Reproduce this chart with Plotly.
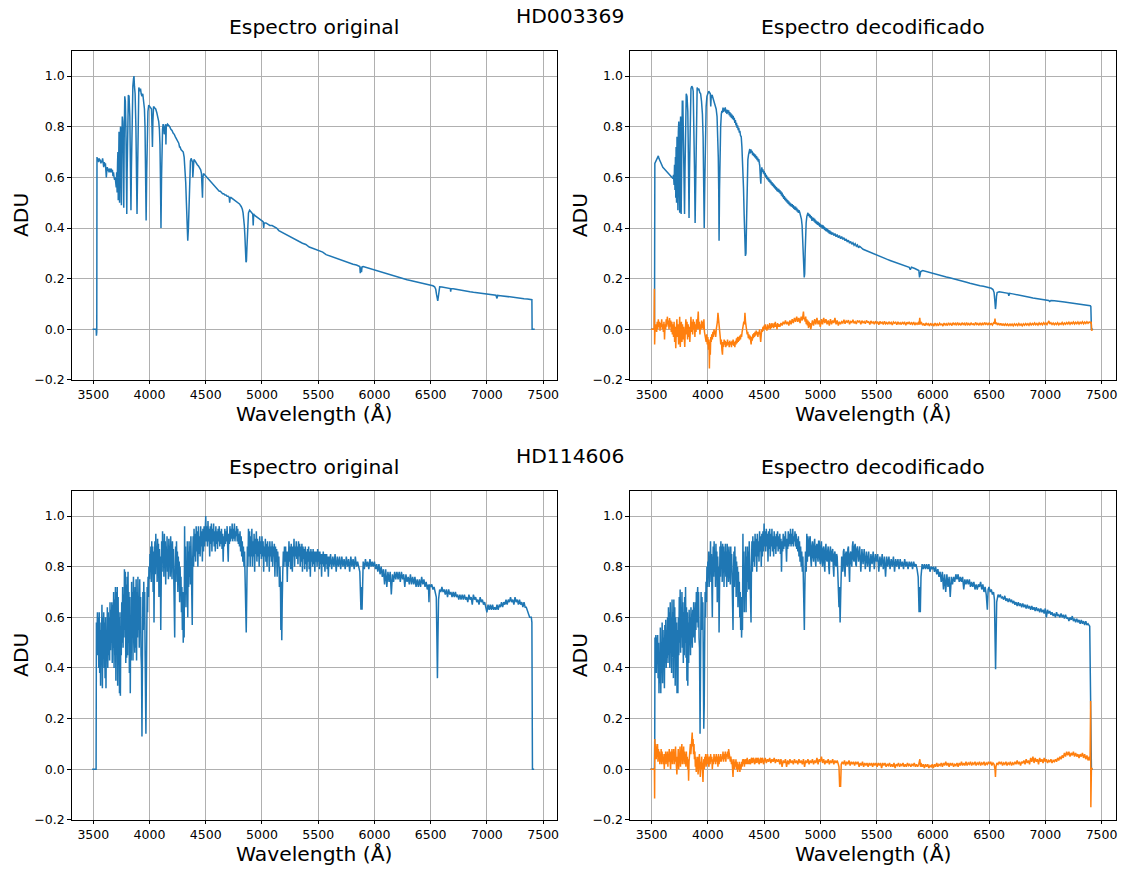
import plotly.graph_objects as go

# ---------------- data (wavelength in Angstrom, flux in ADU) ----------------
STARS = ["HD003369", "HD114606"]
PANEL_TITLES = ["Espectro original", "Espectro decodificado"]
X_TICKS = [3500, 4000, 4500, 5000, 5500, 6000, 6500, 7000, 7500]
Y_TICKS = [-0.2, 0.0, 0.2, 0.4, 0.6, 0.8, 1.0]
Y_TICK_TEXT = ["\u22120.2", "0.0", "0.2", "0.4", "0.6", "0.8", "1.0"]

# HD003369 original spectrum
ORIG_A = [
 (3494,0.0),(3526,0.0),(3528,-0.025),(3531,-0.01),(3533,0.68),(3538,0.665),(3543,0.675),(3548,0.66),
 (3553,0.675),(3558,0.665),(3563,0.67),(3568,0.655),(3573,0.665),(3578,0.66),(3583,0.675),(3588,0.65),
 (3593,0.64),(3598,0.66),(3603,0.645),(3608,0.655),(3612,0.64),(3616,0.60),(3620,0.625),(3625,0.64),
 (3630,0.625),(3635,0.635),(3640,0.62),(3645,0.635),(3650,0.63),(3655,0.62),(3660,0.635),(3665,0.62),
 (3670,0.63),(3675,0.605),(3680,0.62),(3685,0.60),(3690,0.59),(3695,0.60),(3700,0.57),(3704,0.56),
 (3708,0.62),(3712,0.54),(3716,0.66),(3719,0.70),(3722,0.51),(3725,0.70),(3729,0.78),(3734,0.50),
 (3738,0.72),(3742,0.80),(3746,0.78),(3750,0.49),(3754,0.72),(3758,0.84),(3762,0.82),(3767,0.70),
 (3771,0.48),(3775,0.75),(3780,0.92),(3785,0.90),(3790,0.80),(3795,0.62),(3798,0.455),(3801,0.62),
 (3806,0.85),(3812,0.925),(3818,0.92),(3825,0.84),(3831,0.62),(3835,0.47),(3839,0.63),(3845,0.86),
 (3852,0.96),(3858,0.99),(3862,1.0),(3866,0.96),(3872,0.93),(3879,0.80),(3884,0.62),(3889,0.455),
 (3894,0.62),(3899,0.84),(3905,0.955),(3912,0.94),(3920,0.95),(3926,0.93),(3933,0.92),(3940,0.93),
 (3948,0.90),(3955,0.87),(3960,0.80),(3965,0.62),(3970,0.43),(3975,0.62),(3980,0.80),(3986,0.86),
 (3993,0.885),(4000,0.88),(4010,0.875),(4018,0.87),(4022,0.80),(4026,0.72),(4030,0.82),(4036,0.88),
 (4045,0.875),(4055,0.87),(4065,0.855),(4075,0.84),(4082,0.82),(4088,0.79),(4093,0.73),(4097,0.60),
 (4102,0.40),(4107,0.60),(4111,0.73),(4116,0.79),(4121,0.81),(4127,0.80),(4131,0.77),(4135,0.80),
 (4143,0.81),(4146,0.73),(4149,0.80),(4160,0.81),(4170,0.805),(4180,0.80),(4190,0.79),(4200,0.785),
 (4210,0.775),(4220,0.77),(4230,0.76),(4240,0.75),(4250,0.745),(4260,0.735),(4267,0.72),(4272,0.72),
 (4280,0.71),(4290,0.705),(4300,0.70),(4308,0.68),(4315,0.64),(4322,0.58),(4328,0.50),(4334,0.40),
 (4340,0.35),(4346,0.40),(4352,0.53),(4358,0.62),(4364,0.665),(4370,0.675),(4376,0.665),(4382,0.66),
 (4385,0.60),(4388,0.66),(4395,0.67),(4405,0.665),(4415,0.655),(4425,0.65),(4435,0.645),(4445,0.635),
 (4455,0.63),(4462,0.615),(4467,0.58),(4471,0.52),(4475,0.60),(4480,0.615),(4490,0.61),(4500,0.605),
 (4510,0.60),(4520,0.595),(4530,0.59),(4540,0.585),(4550,0.58),(4560,0.575),(4570,0.57),(4580,0.565),
 (4590,0.56),(4600,0.555),(4610,0.55),(4620,0.545),(4630,0.545),(4640,0.54),(4650,0.535),(4660,0.535),
 (4670,0.53),(4680,0.53),(4690,0.525),(4700,0.525),(4709,0.52),(4713,0.50),(4717,0.52),(4725,0.52),
 (4740,0.515),(4760,0.51),(4780,0.50),(4800,0.495),(4815,0.485),(4825,0.475),(4832,0.46),(4838,0.44),
 (4843,0.41),(4848,0.37),(4853,0.31),(4858,0.265),(4862,0.27),(4866,0.32),(4870,0.38),(4875,0.43),
 (4880,0.46),(4890,0.47),(4900,0.465),(4910,0.46),(4918,0.455),(4922,0.41),(4926,0.455),(4935,0.45),
 (4950,0.445),(4965,0.44),(4980,0.435),(4995,0.43),(5010,0.425),(5015,0.40),(5020,0.42),(5035,0.42),
 (5050,0.415),(5070,0.41),(5090,0.41),(5110,0.405),(5130,0.40),(5150,0.39),(5170,0.385),(5190,0.38),
 (5210,0.375),(5230,0.37),(5250,0.365),(5270,0.36),(5290,0.355),(5310,0.35),(5330,0.345),(5360,0.34),
 (5390,0.335),(5420,0.325),(5450,0.32),(5480,0.315),(5510,0.31),(5540,0.305),(5570,0.295),(5600,0.29),
 (5630,0.285),(5660,0.28),(5690,0.275),(5720,0.27),(5750,0.265),(5780,0.26),(5810,0.257),(5840,0.254),
 (5860,0.252),(5870,0.248),(5874,0.222),(5878,0.245),(5885,0.226),(5890,0.247),(5900,0.248),(5930,0.244),
 (5960,0.24),(5990,0.237),(6020,0.232),(6050,0.227),(6080,0.222),(6110,0.218),(6140,0.214),(6170,0.21),
 (6200,0.208),(6230,0.204),(6260,0.2),(6290,0.196),(6320,0.193),(6350,0.19),(6380,0.187),(6410,0.184),
 (6440,0.181),(6470,0.178),(6500,0.176),(6520,0.172),(6535,0.168),(6545,0.158),(6552,0.138),(6558,0.116),
 (6563,0.112),(6568,0.128),(6573,0.158),(6580,0.168),(6600,0.167),(6630,0.165),(6660,0.163),(6675,0.161),
 (6678,0.149),(6681,0.16),(6700,0.16),(6730,0.157),(6760,0.155),(6790,0.152),(6820,0.15),(6850,0.148),
 (6880,0.146),(6910,0.144),(6940,0.142),(6970,0.141),(7000,0.14),(7030,0.138),(7060,0.136),(7080,0.135),
 (7090,0.122),(7095,0.134),(7120,0.133),(7150,0.131),(7180,0.129),(7210,0.128),(7240,0.126),(7270,0.124),
 (7300,0.122),(7330,0.121),(7360,0.12),(7390,0.118),(7400,0.117),(7402,0.0),(7425,0.0),
]

# HD003369 decoded spectrum
DEC_A = [
 (3494,0.0),(3526,0.0),(3529,0.655),(3535,0.66),(3540,0.665),(3545,0.67),(3550,0.675),(3555,0.68),
 (3560,0.685),(3565,0.675),(3570,0.67),(3575,0.665),(3580,0.655),(3585,0.65),(3590,0.645),(3595,0.64),
 (3600,0.64),(3610,0.635),(3620,0.63),(3630,0.625),(3640,0.62),(3650,0.615),(3660,0.61),(3670,0.605),
 (3680,0.60),(3690,0.595),(3695,0.61),(3700,0.57),(3704,0.65),(3708,0.55),(3712,0.68),(3715,0.52),
 (3718,0.72),(3722,0.50),(3726,0.76),(3730,0.48),(3734,0.47),(3738,0.78),(3742,0.82),(3746,0.60),
 (3750,0.46),(3754,0.78),(3758,0.84),(3763,0.455),(3767,0.80),(3773,0.90),(3778,0.90),(3783,0.70),
 (3788,0.60),(3793,0.455),(3797,0.62),(3802,0.86),(3808,0.93),(3815,0.92),(3822,0.86),(3828,0.65),
 (3833,0.44),(3837,0.62),(3843,0.88),(3850,0.95),(3857,0.96),(3864,0.955),(3870,0.94),(3876,0.82),
 (3882,0.62),(3887,0.42),(3892,0.62),(3898,0.86),(3905,0.955),(3912,0.945),(3920,0.95),(3928,0.935),
 (3936,0.93),(3944,0.90),(3952,0.85),(3958,0.76),(3963,0.55),(3968,0.40),(3973,0.58),(3979,0.80),
 (3985,0.88),(3992,0.92),(4000,0.93),(4008,0.94),(4015,0.935),(4022,0.93),(4026,0.88),(4030,0.92),
 (4038,0.925),(4045,0.915),(4055,0.905),(4065,0.89),(4074,0.87),(4082,0.84),(4088,0.78),(4093,0.68),
 (4097,0.55),(4100,0.35),(4104,0.55),(4109,0.72),(4114,0.80),(4120,0.85),(4125,0.862),(4130,0.855),
 (4135,0.875),(4140,0.858),(4145,0.872),(4150,0.862),(4155,0.876),(4160,0.855),(4165,0.868),(4170,0.85),
 (4175,0.866),(4180,0.855),(4185,0.865),(4190,0.845),(4195,0.858),(4200,0.84),(4205,0.853),(4210,0.835),
 (4215,0.848),(4220,0.83),(4225,0.843),(4230,0.826),(4235,0.835),(4240,0.815),(4245,0.826),(4250,0.805),
 (4255,0.815),(4260,0.795),(4265,0.805),(4270,0.786),(4275,0.795),(4280,0.776),(4285,0.784),(4290,0.766),
 (4297,0.76),(4303,0.72),(4310,0.66),(4317,0.56),(4323,0.45),(4329,0.36),(4334,0.29),(4339,0.30),
 (4344,0.42),(4350,0.58),(4356,0.67),(4362,0.69),(4368,0.70),(4373,0.712),(4378,0.695),(4383,0.71),
 (4388,0.698),(4393,0.705),(4398,0.688),(4403,0.698),(4408,0.684),(4413,0.694),(4418,0.679),(4423,0.69),
 (4428,0.674),(4433,0.684),(4438,0.668),(4443,0.678),(4448,0.662),(4453,0.672),(4458,0.655),(4462,0.645),
 (4467,0.60),(4471,0.575),(4475,0.62),(4480,0.64),(4485,0.622),(4490,0.632),(4495,0.615),(4500,0.625),
 (4505,0.608),(4510,0.618),(4515,0.60),(4520,0.61),(4525,0.593),(4530,0.603),(4535,0.588),(4540,0.598),
 (4545,0.582),(4550,0.592),(4555,0.577),(4560,0.587),(4565,0.571),(4570,0.581),(4575,0.566),(4580,0.576),
 (4585,0.561),(4590,0.571),(4595,0.556),(4600,0.566),(4605,0.551),(4610,0.561),(4615,0.546),(4620,0.556),
 (4625,0.543),(4630,0.555),(4635,0.54),(4640,0.55),(4645,0.535),(4650,0.545),(4655,0.528),(4660,0.54),
 (4665,0.522),(4670,0.532),(4675,0.515),(4680,0.526),(4685,0.51),(4690,0.52),(4695,0.505),(4700,0.515),
 (4705,0.50),(4710,0.51),(4715,0.495),(4720,0.505),(4725,0.49),(4730,0.50),(4735,0.486),(4740,0.496),
 (4745,0.484),(4750,0.494),(4755,0.48),(4760,0.49),(4765,0.475),(4770,0.485),(4775,0.472),(4780,0.484),
 (4785,0.47),(4790,0.48),(4795,0.465),(4800,0.474),(4805,0.46),(4810,0.47),(4818,0.46),(4825,0.45),
 (4832,0.435),(4838,0.41),(4843,0.37),(4848,0.32),(4853,0.25),(4857,0.205),(4861,0.22),(4865,0.30),
 (4869,0.38),(4874,0.42),(4880,0.445),(4885,0.452),(4890,0.46),(4895,0.448),(4900,0.456),(4905,0.442),
 (4910,0.452),(4915,0.438),(4920,0.447),(4926,0.428),(4930,0.442),(4935,0.43),(4940,0.44),(4945,0.425),
 (4950,0.436),(4955,0.42),(4960,0.43),(4965,0.416),(4970,0.426),(4975,0.412),(4980,0.424),(4985,0.41),
 (4990,0.42),(4995,0.405),(5000,0.416),(5010,0.402),(5015,0.412),(5020,0.398),(5025,0.41),(5030,0.396),
 (5035,0.405),(5040,0.392),(5045,0.402),(5050,0.388),(5055,0.40),(5060,0.386),(5065,0.396),(5070,0.382),
 (5075,0.392),(5080,0.378),(5085,0.39),(5090,0.376),(5095,0.386),(5100,0.374),(5110,0.382),(5120,0.37),
 (5130,0.378),(5140,0.366),(5150,0.374),(5160,0.362),(5170,0.37),(5180,0.358),(5190,0.366),(5200,0.355),
 (5210,0.362),(5220,0.35),(5230,0.357),(5240,0.345),(5250,0.352),(5260,0.34),(5270,0.347),(5280,0.336),
 (5290,0.342),(5300,0.332),(5310,0.338),(5320,0.328),(5330,0.333),(5340,0.322),(5350,0.328),(5380,0.316),
 (5410,0.31),(5440,0.305),
 (5470,0.298),(5500,0.293),(5530,0.288),(5560,0.282),(5590,0.277),(5620,0.272),(5650,0.267),(5680,0.262),
 (5710,0.257),(5740,0.252),(5770,0.248),(5790,0.245),(5800,0.235),(5810,0.245),(5840,0.24),(5860,0.237),
 (5876,0.232),(5882,0.205),(5887,0.215),(5893,0.228),(5910,0.232),(5940,0.228),(5970,0.225),(6000,0.221),
 (6030,0.217),(6060,0.213),(6090,0.21),(6120,0.207),(6150,0.204),(6180,0.201),(6210,0.198),(6240,0.195),
 (6270,0.19),(6300,0.186),(6330,0.182),(6360,0.178),(6390,0.175),(6420,0.172),(6450,0.17),(6480,0.167),
 (6500,0.165),(6520,0.162),(6535,0.157),(6545,0.145),(6552,0.11),(6557,0.08),(6561,0.095),(6566,0.13),
 (6572,0.145),(6590,0.148),(6620,0.146),(6650,0.144),(6670,0.142),(6676,0.132),(6682,0.142),(6710,0.14),
 (6740,0.138),(6770,0.136),(6800,0.133),(6830,0.13),(6860,0.127),(6890,0.124),(6920,0.122),(6950,0.12),
 (6980,0.118),(7005,0.116),(7030,0.114),(7040,0.11),(7050,0.114),(7080,0.113),(7110,0.112),(7140,0.11),
 (7170,0.108),(7200,0.106),(7230,0.104),(7260,0.102),(7290,0.10),(7320,0.098),(7350,0.097),(7380,0.095),
 (7400,0.093),(7405,0.09),(7410,0.0),(7425,0.0),
]

# HD003369 residual (original - decoded)
RES_A = [
 (3494,0.0),(3522,0.0),(3525,0.16),(3527,-0.06),(3531,0.01),(3535,0.0),(3540,0.02),(3545,-0.01),
 (3550,0.03),(3555,0.0),(3560,0.04),(3565,0.01),(3570,0.03),(3575,-0.005),(3580,0.025),(3585,0.01),
 (3590,0.04),(3595,0.0),(3600,0.02),(3605,-0.01),(3610,0.03),(3615,-0.04),(3620,0.02),(3625,0.0),
 (3630,0.04),(3635,0.01),(3640,0.05),(3645,0.02),(3650,0.035),(3655,0.0),(3660,0.045),(3665,0.01),
 (3670,0.035),(3675,-0.01),(3680,0.03),(3685,-0.02),(3690,0.02),(3695,-0.03),(3700,0.03),(3705,-0.05),
 (3710,0.01),(3715,-0.075),(3720,0.0),(3725,0.04),(3730,-0.03),(3735,0.02),(3740,-0.06),(3745,0.0),
 (3750,0.05),(3755,-0.07),(3760,-0.01),(3765,0.03),(3770,-0.05),(3775,0.02),(3780,-0.04),(3785,0.01),
 (3790,-0.03),(3795,-0.07),(3800,0.0),(3805,0.04),(3810,-0.02),(3815,0.03),(3820,-0.04),(3825,0.02),
 (3830,-0.03),(3835,0.01),(3840,-0.05),(3845,0.03),(3850,0.05),(3855,-0.01),(3860,0.03),(3865,-0.02),
 (3870,0.04),(3875,0.0),(3880,0.03),(3885,-0.03),(3890,0.02),(3895,-0.01),(3900,0.04),(3905,0.0),
 (3910,0.03),(3915,0.07),(3920,0.0),(3925,0.03),(3930,-0.02),(3935,0.02),(3940,0.0),(3945,0.035),
 (3950,0.005),(3955,0.03),(3960,0.0),(3965,0.04),(3970,-0.01),(3975,-0.02),(3980,-0.03),(3985,-0.05),
 (3990,-0.02),(3995,-0.06),(4000,-0.03),(4005,-0.08),(4010,-0.04),(4014,-0.155),(4018,-0.05),(4022,-0.1),
 (4026,-0.03),(4030,-0.05),(4035,-0.02),(4040,-0.04),(4045,-0.01),(4050,-0.03),(4055,0.0),(4060,-0.02),
 (4065,-0.005),(4070,-0.03),(4075,0.0),(4080,0.01),(4085,0.03),(4090,0.065),(4095,0.03),(4100,0.0),
 (4105,-0.02),(4110,-0.03),(4115,-0.06),(4120,-0.04),(4125,-0.08),(4130,-0.1),(4135,-0.05),(4140,-0.07),
 (4145,-0.04),(4150,-0.06),(4155,-0.045),(4160,-0.07),(4165,-0.05),(4170,-0.065),(4175,-0.04),(4180,-0.06),
 (4185,-0.05),(4190,-0.07),(4195,-0.045),(4200,-0.06),(4205,-0.05),(4210,-0.07),(4215,-0.045),(4220,-0.06),
 (4225,-0.04),(4230,-0.065),(4235,-0.05),(4240,-0.07),(4245,-0.045),(4250,-0.06),(4255,-0.035),(4260,-0.055),
 (4265,-0.03),(4270,-0.05),(4275,-0.03),(4280,-0.045),(4285,-0.025),(4290,-0.04),(4295,-0.02),(4300,-0.03),
 (4305,-0.01),(4310,0.0),(4315,0.01),(4320,0.03),(4325,0.02),(4330,0.065),(4335,0.03),(4340,0.01),
 (4345,0.0),(4350,-0.02),(4355,-0.01),(4360,-0.035),(4365,-0.02),(4370,-0.04),(4375,-0.025),(4380,-0.05),
 (4385,-0.06),(4390,-0.03),(4395,-0.045),(4400,-0.02),(4405,-0.035),(4410,-0.015),(4415,-0.03),(4420,-0.01),
 (4425,-0.025),(4430,-0.005),(4435,-0.02),(4440,-0.01),(4445,-0.03),(4450,-0.01),(4455,-0.02),(4460,0.0),
 (4465,-0.035),(4470,-0.05),(4475,-0.02),(4480,0.0),(4485,-0.01),(4490,0.01),(4495,-0.005),(4500,0.015),
 (4505,0.0),(4510,0.02),(4515,0.0),(4520,0.01),(4525,-0.005),(4530,0.02),(4535,0.0),(4540,0.015),
 (4545,0.005),(4550,0.025),(4555,0.0),(4560,0.02),(4565,0.005),(4570,0.025),(4575,0.01),(4580,0.02),
 (4585,0.005),(4590,0.025),(4595,0.01),(4600,0.03),(4605,0.01),(4610,0.02),(4615,0.0),(4620,0.025),
 (4625,0.01),(4630,0.02),(4640,0.01),(4650,0.025),(4660,0.015),(4670,0.03),(4680,0.02),(4690,0.035),
 (4700,0.02),(4710,0.03),(4720,0.015),(4730,0.035),(4740,0.02),(4750,0.04),(4760,0.025),(4770,0.045),
 (4780,0.03),(4790,0.05),(4800,0.03),(4810,0.045),(4820,0.025),(4830,0.05),(4840,0.035),(4850,0.07),
 (4855,0.04),(4860,0.045),(4865,0.03),(4870,0.05),(4875,0.02),(4880,0.04),(4885,0.015),(4890,0.035),
 (4895,0.005),(4900,0.03),(4905,0.01),(4910,0.025),(4915,0.0),(4920,0.02),(4930,0.035),(4940,0.015),
 (4950,0.04),(4960,0.02),(4970,0.045),(4980,0.02),(4990,0.035),(5000,0.01),(5010,0.04),(5020,0.02),
 (5030,0.045),(5040,0.025),(5050,0.04),(5060,0.02),(5070,0.035),(5080,0.015),(5090,0.04),(5100,0.02),
 (5110,0.035),(5120,0.025),(5130,0.045),(5140,0.02),(5150,0.035),(5160,0.015),(5170,0.03),(5180,0.02),
 (5190,0.03),(5200,0.025),(5210,0.038),(5220,0.022),(5230,0.033),(5240,0.028),(5250,0.036),(5260,0.02),
 (5270,0.031),(5280,0.027),(5290,0.038),(5300,0.024),(5310,0.03),(5320,0.021),(5330,0.035),(5340,0.029),
 (5350,0.033),(5360,0.02),(5370,0.034),(5380,0.026),(5390,0.031),(5400,0.022),(5410,0.035),(5420,0.028),
 (5430,0.03),(5440,0.019),(5450,0.033),(5460,0.025),(5470,0.029),(5480,0.02),(5490,0.032),(5500,0.024),
 (5510,0.03),(5520,0.018),(5530,0.031),(5540,0.024),(5550,0.028),(5560,0.019),(5570,0.032),(5580,0.022),
 (5590,0.027),(5600,0.02),(5610,0.03),(5620,0.022),(5630,0.027),(5640,0.017),(5650,0.029),(5660,0.024),
 (5670,0.028),(5680,0.018),(5690,0.03),(5700,0.021),(5710,0.026),(5720,0.019),(5730,0.029),(5740,0.022),
 (5750,0.027),(5760,0.016),(5770,0.028),(5780,0.021),(5790,0.03),(5800,0.019),(5810,0.026),(5820,0.02),
 (5830,0.029),(5840,0.017),(5850,0.025),(5860,0.02),(5870,0.026),(5878,0.018),(5884,0.045),(5890,0.02),
 (5900,0.026),(5910,0.016),(5920,0.023),(5930,0.014),(5940,0.025),(5950,0.018),(5960,0.022),(5970,0.013),
 (5980,0.024),(5990,0.017),(6000,0.021),(6010,0.013),(6020,0.025),(6030,0.016),(6040,0.022),(6050,0.014),
 (6060,0.024),(6070,0.018),(6080,0.021),(6090,0.013),(6100,0.025),(6110,0.017),(6120,0.022),(6130,0.015),
 (6140,0.026),(6150,0.018),(6160,0.023),(6170,0.015),(6180,0.026),(6190,0.019),(6200,0.024),(6210,0.016),
 (6220,0.027),(6230,0.018),(6240,0.023),(6250,0.016),(6260,0.026),(6270,0.019),(6280,0.024),(6290,0.015),
 (6300,0.027),(6310,0.018),(6320,0.023),(6330,0.016),(6340,0.026),(6350,0.019),(6360,0.022),(6370,0.016),
 (6380,0.027),(6390,0.019),(6400,0.023),(6410,0.016),(6420,0.026),(6430,0.018),(6440,0.024),(6450,0.017),
 (6460,0.027),(6470,0.02),(6480,0.024),(6490,0.017),(6500,0.026),(6510,0.019),(6520,0.023),(6530,0.017),
 (6540,0.026),(6548,0.022),(6553,0.042),(6558,0.02),(6566,0.027),(6575,0.017),(6585,0.025),(6595,0.016),
 (6605,0.024),(6615,0.015),(6625,0.023),(6635,0.014),(6645,0.022),(6655,0.016),(6665,0.021),(6675,0.013),
 (6685,0.022),(6695,0.015),(6705,0.021),(6715,0.014),(6725,0.022),(6735,0.016),(6745,0.021),(6755,0.015),
 (6765,0.023),(6775,0.016),(6785,0.021),(6795,0.014),(6805,0.022),(6815,0.016),(6825,0.023),(6835,0.017),
 (6845,0.022),(6855,0.016),(6865,0.024),(6875,0.017),(6885,0.023),(6895,0.018),(6905,0.025),(6915,0.018),
 (6925,0.023),(6935,0.017),(6945,0.025),(6955,0.019),(6965,0.024),(6975,0.018),(6985,0.026),(6995,0.02),
 (7005,0.025),(7015,0.019),(7025,0.027),(7032,0.033),(7040,0.021),(7050,0.026),(7060,0.019),(7070,0.025),
 (7080,0.018),(7090,0.024),(7100,0.019),(7110,0.026),(7120,0.018),(7130,0.024),(7140,0.02),(7150,0.027),
 (7160,0.019),(7170,0.025),(7180,0.02),(7190,0.027),(7200,0.021),(7210,0.028),(7220,0.02),(7230,0.027),
 (7240,0.022),(7250,0.029),(7260,0.021),(7270,0.028),(7280,0.022),(7290,0.029),(7300,0.021),(7310,0.028),
 (7320,0.023),(7330,0.03),(7340,0.022),(7350,0.029),(7360,0.023),(7370,0.03),(7380,0.024),(7390,0.029),
 (7400,0.026),(7408,0.03),(7412,-0.005),(7420,0.0),
]

# HD114606 original spectrum
ORIG_B = [
 (3490,0.0),(3510,0.0),(3525,0.0),(3528,0.58),(3533,0.52),(3537,0.62),(3541,0.45),(3545,0.60),
 (3549,0.40),(3553,0.62),(3557,0.38),(3561,0.55),(3565,0.33),(3569,0.58),(3573,0.48),(3577,0.65),
 (3581,0.32),(3585,0.60),(3589,0.45),(3593,0.62),(3597,0.40),(3601,0.58),(3605,0.36),(3609,0.60),
 (3613,0.32),(3617,0.55),(3621,0.44),(3625,0.64),(3629,0.40),(3633,0.62),(3637,0.45),(3641,0.60),
 (3645,0.43),(3649,0.66),(3653,0.47),(3657,0.63),(3661,0.50),(3665,0.66),(3669,0.42),(3673,0.65),
 (3677,0.48),(3681,0.70),(3685,0.40),(3689,0.67),(3693,0.45),(3697,0.72),(3701,0.35),(3705,0.70),
 (3709,0.48),(3713,0.72),(3717,0.33),(3721,0.68),(3725,0.42),(3729,0.60),(3733,0.30),(3737,0.62),
 (3741,0.29),(3745,0.55),(3749,0.45),(3753,0.66),(3757,0.50),(3761,0.72),(3765,0.48),(3769,0.69),
 (3773,0.52),(3777,0.79),(3781,0.55),(3785,0.78),(3789,0.42),(3793,0.73),(3797,0.44),(3801,0.76),
 (3805,0.45),(3809,0.78),(3813,0.50),(3817,0.70),(3821,0.38),(3825,0.68),(3829,0.30),(3833,0.60),
 (3837,0.43),(3841,0.74),(3845,0.52),(3849,0.70),(3853,0.43),(3857,0.76),(3861,0.55),(3865,0.68),
 (3869,0.46),(3873,0.72),(3877,0.48),(3881,0.75),(3885,0.43),(3889,0.70),(3893,0.52),(3897,0.76),
 (3901,0.55),(3905,0.68),(3909,0.48),(3913,0.75),(3917,0.55),(3921,0.68),(3925,0.45),(3929,0.40),
 (3933,0.13),(3937,0.45),(3941,0.70),(3945,0.55),(3949,0.74),(3953,0.60),(3957,0.70),(3961,0.45),
 (3965,0.20),(3968,0.14),(3971,0.30),(3975,0.58),(3979,0.72),(3983,0.62),(3987,0.76),(3991,0.68),
 (3995,0.80),(4000,0.75),(4004,0.85),(4008,0.78),(4012,0.88),(4016,0.74),(4020,0.90),(4024,0.80),
 (4028,0.88),(4032,0.70),(4036,0.86),(4040,0.58),(4044,0.82),(4048,0.90),(4052,0.77),(4056,0.93),
 (4060,0.80),(4064,0.88),(4068,0.74),(4072,0.91),(4076,0.82),(4080,0.89),(4084,0.68),(4088,0.87),
 (4092,0.78),(4096,0.84),(4100,0.55),(4104,0.80),(4108,0.90),(4112,0.78),(4116,0.94),(4120,0.82),
 (4124,0.90),(4128,0.76),(4132,0.93),(4136,0.83),(4140,0.90),(4144,0.73),(4148,0.88),(4152,0.80),
 (4156,0.92),(4160,0.78),(4164,0.87),(4168,0.75),(4172,0.91),(4176,0.82),(4180,0.88),(4184,0.76),
 (4188,0.92),(4192,0.80),(4196,0.86),(4200,0.75),(4204,0.90),(4208,0.80),(4212,0.87),(4216,0.72),
 (4220,0.80),(4224,0.52),(4228,0.78),(4232,0.88),(4236,0.74),(4240,0.90),(4244,0.78),(4248,0.86),
 (4252,0.70),(4256,0.84),(4260,0.74),(4264,0.82),(4268,0.66),(4272,0.80),(4276,0.70),(4280,0.76),
 (4284,0.62),(4288,0.72),(4292,0.55),(4296,0.70),(4300,0.50),(4304,0.62),(4308,0.52),(4312,0.96),
 (4316,0.72),(4320,0.88),(4324,0.64),(4328,0.82),(4332,0.70),(4336,0.90),(4340,0.60),(4344,0.86),
 (4348,0.72),(4352,0.90),(4356,0.76),(4360,0.88),(4364,0.73),(4368,0.92),(4372,0.80),(4376,0.86),
 (4380,0.57),(4384,0.82),(4388,0.92),(4392,0.80),(4396,0.95),(4400,0.84),(4405,0.93),(4410,0.82),
 (4415,0.96),(4420,0.86),(4425,0.94),(4430,0.80),(4435,0.96),(4440,0.85),(4445,0.92),(4450,0.84),
 (4455,0.96),(4460,0.88),(4465,0.94),(4470,0.82),(4475,0.95),(4480,0.86),(4485,0.96),(4490,0.88),
 (4495,0.97),(4500,1.0),(4505,0.90),(4510,0.96),(4515,0.88),(4520,0.98),(4525,0.90),(4530,0.95),
 (4535,0.84),(4540,0.96),(4545,0.89),(4550,0.97),(4555,0.86),(4560,0.95),(4565,0.90),(4570,0.97),
 (4575,0.88),(4580,0.94),(4585,0.86),(4590,0.96),(4595,0.89),(4600,0.94),(4605,0.87),(4610,0.95),
 (4615,0.90),(4620,0.96),(4625,0.88),(4630,0.94),(4635,0.89),(4640,0.95),(4645,0.87),(4650,0.93),
 (4655,0.82),(4660,0.92),(4665,0.88),(4670,0.95),(4675,0.89),(4680,0.94),(4685,0.90),(4690,0.96),
 (4695,0.88),(4700,0.82),(4705,0.93),(4710,0.89),(4715,0.96),(4720,0.90),(4725,0.95),(4730,0.91),
 (4735,0.97),(4740,0.90),(4745,0.95),(4750,0.91),(4755,0.97),(4760,0.90),(4765,0.94),(4770,0.92),
 (4775,0.96),(4780,0.90),(4785,0.95),(4790,0.89),(4795,0.93),(4800,0.88),(4805,0.94),(4810,0.86),
 (4815,0.92),(4820,0.84),(4825,0.90),(4830,0.82),(4835,0.88),(4840,0.80),(4845,0.86),(4850,0.76),
 (4855,0.62),(4860,0.54),(4865,0.70),(4870,0.88),(4875,0.80),(4880,0.95),(4885,0.84),(4890,0.94),
 (4895,0.80),(4900,0.92),(4905,0.84),(4910,0.95),(4915,0.80),(4920,0.90),(4925,0.84),(4930,0.93),
 (4935,0.78),(4940,0.91),(4945,0.85),(4950,0.94),(4955,0.82),(4960,0.91),(4965,0.84),(4970,0.90),
 (4975,0.80),(4980,0.92),(4985,0.85),(4990,0.90),(4995,0.83),(5000,0.92),(5005,0.84),(5010,0.90),
 (5015,0.78),(5020,0.88),(5025,0.84),(5030,0.91),(5035,0.82),(5040,0.89),(5045,0.80),(5050,0.90),
 (5055,0.84),(5060,0.88),(5065,0.78),(5070,0.90),(5075,0.84),(5080,0.88),(5085,0.82),(5090,0.90),
 (5095,0.80),(5100,0.88),(5105,0.84),(5110,0.89),(5115,0.76),(5120,0.88),(5125,0.82),(5130,0.87),
 (5135,0.76),(5140,0.86),(5145,0.80),(5150,0.84),(5155,0.72),(5160,0.80),(5165,0.70),(5168,0.55),
 (5172,0.74),(5176,0.51),(5180,0.66),(5185,0.78),(5190,0.86),(5195,0.80),(5200,0.88),(5205,0.82),
 (5210,0.88),(5215,0.80),(5220,0.86),(5225,0.74),(5230,0.86),(5235,0.80),(5240,0.90),(5245,0.82),
 (5250,0.88),(5255,0.79),(5260,0.89),(5265,0.84),(5270,0.78),(5275,0.88),(5280,0.84),(5285,0.91),
 (5290,0.80),(5295,0.88),(5300,0.84),(5305,0.90),(5310,0.83),(5315,0.88),(5320,0.81),(5325,0.90),
 (5330,0.84),(5335,0.89),(5340,0.80),(5345,0.88),(5350,0.82),(5355,0.89),(5360,0.78),(5365,0.88),
 (5370,0.83),(5375,0.87),(5380,0.79),(5385,0.88),(5390,0.81),(5395,0.86),(5400,0.78),(5405,0.87),
 (5410,0.82),(5415,0.88),(5420,0.79),(5425,0.86),(5430,0.76),(5435,0.87),(5440,0.82),(5445,0.86),
 (5450,0.80),(5455,0.87),(5460,0.81),(5465,0.86),(5470,0.78),(5475,0.86),(5480,0.82),(5485,0.86),
 (5490,0.80),(5495,0.87),(5500,0.82),(5505,0.86),(5510,0.79),(5515,0.86),(5520,0.81),(5525,0.85),
 (5530,0.76),(5535,0.85),(5540,0.81),(5545,0.86),(5550,0.80),(5555,0.85),(5560,0.78),(5565,0.85),
 (5570,0.81),(5575,0.85),(5580,0.79),(5585,0.84),(5590,0.76),(5595,0.84),(5600,0.80),(5610,0.85),
 (5620,0.79),(5630,0.84),(5640,0.80),(5650,0.85),(5660,0.78),(5670,0.84),(5680,0.80),(5690,0.84),
 (5700,0.79),(5710,0.84),(5720,0.80),(5730,0.83),(5740,0.79),(5750,0.84),(5760,0.80),(5770,0.83),
 (5780,0.78),(5790,0.84),(5800,0.80),(5810,0.83),(5820,0.79),(5830,0.84),(5840,0.80),(5850,0.82),
 (5860,0.79),(5870,0.78),(5880,0.63),(5885,0.72),(5890,0.63),(5895,0.78),(5900,0.82),(5910,0.79),
 (5920,0.83),(5930,0.80),(5940,0.82),(5950,0.79),(5960,0.83),(5970,0.80),(5980,0.82),(5990,0.80),
 (6000,0.82),(6010,0.79),(6020,0.81),(6030,0.78),(6040,0.81),(6050,0.77),(6060,0.80),(6070,0.76),
 (6080,0.79),(6090,0.73),(6100,0.79),(6110,0.72),(6120,0.78),(6130,0.74),(6140,0.78),(6150,0.69),
 (6160,0.77),(6170,0.74),(6180,0.78),(6190,0.75),(6200,0.78),(6210,0.75),(6220,0.78),(6230,0.74),
 (6240,0.78),(6250,0.75),(6260,0.77),(6270,0.72),(6280,0.77),(6290,0.74),(6300,0.76),(6310,0.73),
 (6320,0.77),(6330,0.73),(6340,0.76),(6350,0.73),(6360,0.76),(6370,0.72),(6380,0.75),(6390,0.72),
 (6400,0.75),(6410,0.72),(6420,0.76),(6430,0.73),(6440,0.75),(6450,0.72),(6460,0.74),(6470,0.71),
 (6480,0.73),(6485,0.66),(6490,0.73),(6500,0.72),(6510,0.73),(6520,0.71),(6530,0.72),(6540,0.70),
 (6550,0.68),(6556,0.50),(6560,0.36),(6564,0.50),(6570,0.67),(6580,0.71),(6590,0.70),(6600,0.72),
 (6610,0.70),(6620,0.71),(6630,0.69),(6640,0.71),(6650,0.68),(6660,0.71),(6670,0.69),(6680,0.70),
 (6690,0.68),(6700,0.70),(6710,0.68),(6720,0.70),(6730,0.68),(6740,0.69),(6750,0.67),(6760,0.69),
 (6770,0.67),(6780,0.69),(6790,0.67),(6800,0.69),(6810,0.67),(6820,0.68),(6830,0.66),(6840,0.69),
 (6850,0.67),(6860,0.68),(6870,0.65),(6880,0.69),(6890,0.67),(6900,0.68),(6910,0.66),(6920,0.67),
 (6930,0.65),(6940,0.68),(6950,0.66),(6960,0.67),(6970,0.65),(6980,0.66),(6990,0.64),(7000,0.62),
 (7010,0.65),(7020,0.63),(7030,0.65),(7040,0.63),(7050,0.65),(7060,0.63),(7070,0.64),(7080,0.63),
 (7090,0.65),(7100,0.63),(7110,0.65),(7120,0.64),(7130,0.66),(7140,0.64),(7150,0.66),(7160,0.65),
 (7170,0.67),(7180,0.65),(7190,0.67),(7200,0.66),(7210,0.68),(7220,0.66),(7230,0.67),(7240,0.65),
 (7250,0.68),(7260,0.66),(7270,0.67),(7280,0.65),(7290,0.67),(7300,0.65),(7310,0.66),(7320,0.64),
 (7330,0.66),(7340,0.64),(7350,0.64),(7365,0.62),(7380,0.60),(7395,0.60),(7400,0.58),(7405,0.0),
 (7420,0.0),
]

# HD114606 decoded spectrum
DEC_B = [
 (3490,0.0),(3525,0.0),(3528,0.12),(3530,0.52),(3534,0.46),(3538,0.53),(3542,0.38),(3546,0.52),
 (3550,0.44),(3554,0.53),(3558,0.36),(3562,0.50),(3566,0.30),(3570,0.46),(3574,0.34),(3578,0.56),
 (3582,0.30),(3586,0.50),(3590,0.38),(3594,0.58),(3598,0.34),(3602,0.55),(3606,0.40),(3610,0.52),
 (3614,0.32),(3618,0.57),(3622,0.42),(3626,0.59),(3630,0.40),(3634,0.55),(3638,0.44),(3642,0.60),
 (3646,0.42),(3650,0.64),(3654,0.45),(3658,0.62),(3662,0.40),(3666,0.66),(3670,0.46),(3674,0.60),
 (3678,0.38),(3682,0.67),(3686,0.44),(3690,0.62),(3694,0.36),(3698,0.67),(3702,0.48),(3706,0.64),
 (3710,0.33),(3714,0.60),(3718,0.42),(3722,0.58),(3726,0.30),(3730,0.55),(3734,0.30),(3738,0.60),
 (3742,0.45),(3746,0.68),(3750,0.50),(3754,0.71),(3758,0.46),(3762,0.64),(3766,0.52),(3770,0.70),
 (3774,0.48),(3778,0.66),(3782,0.42),(3786,0.62),(3790,0.45),(3794,0.68),(3798,0.50),(3802,0.72),
 (3806,0.44),(3810,0.64),(3814,0.35),(3818,0.62),(3822,0.33),(3826,0.58),(3830,0.42),(3834,0.63),
 (3838,0.50),(3842,0.60),(3846,0.45),(3850,0.64),(3854,0.52),(3858,0.60),(3862,0.48),(3866,0.63),
 (3870,0.52),(3874,0.66),(3878,0.55),(3882,0.62),(3886,0.50),(3890,0.66),(3894,0.55),(3898,0.70),
 (3902,0.58),(3906,0.68),(3910,0.72),(3914,0.56),(3918,0.70),(3922,0.52),(3926,0.48),(3931,0.14),
 (3936,0.45),(3940,0.70),(3944,0.55),(3948,0.68),(3952,0.60),(3956,0.66),(3960,0.40),(3964,0.16),
 (3968,0.25),(3972,0.50),(3976,0.70),(3980,0.60),(3984,0.74),(3988,0.66),(3992,0.80),(3996,0.72),
 (4000,0.82),(4004,0.76),(4008,0.86),(4012,0.72),(4016,0.84),(4020,0.78),(4024,0.90),(4028,0.74),
 (4032,0.85),(4036,0.64),(4040,0.60),(4044,0.80),(4048,0.88),(4052,0.76),(4056,0.90),(4060,0.78),
 (4064,0.86),(4068,0.72),(4072,0.89),(4076,0.80),(4080,0.86),(4084,0.66),(4088,0.84),(4092,0.76),
 (4096,0.80),(4100,0.54),(4104,0.78),(4108,0.88),(4112,0.76),(4116,0.90),(4120,0.80),(4124,0.88),
 (4128,0.74),(4132,0.89),(4136,0.80),(4140,0.88),(4144,0.72),(4148,0.86),(4152,0.78),(4156,0.89),
 (4160,0.76),(4164,0.86),(4168,0.72),(4172,0.89),(4176,0.80),(4180,0.86),(4184,0.74),(4188,0.88),
 (4192,0.78),(4196,0.84),(4200,0.73),(4204,0.88),(4208,0.78),(4212,0.85),(4216,0.70),(4220,0.78),
 (4224,0.55),(4228,0.76),(4232,0.86),(4236,0.72),(4240,0.88),(4244,0.76),(4248,0.84),(4252,0.68),
 (4256,0.82),(4260,0.72),(4264,0.80),(4268,0.64),(4272,0.78),(4276,0.68),(4280,0.74),(4284,0.60),
 (4288,0.70),(4292,0.55),(4296,0.68),(4300,0.52),(4304,0.60),(4308,0.55),(4312,0.93),(4316,0.70),
 (4320,0.86),(4324,0.62),(4328,0.80),(4332,0.68),(4336,0.88),(4340,0.62),(4344,0.84),(4348,0.70),
 (4352,0.88),(4356,0.74),(4360,0.86),(4364,0.71),(4368,0.90),(4372,0.78),(4376,0.84),(4380,0.62),
 (4384,0.58),(4388,0.80),(4392,0.90),(4396,0.78),(4400,0.92),(4405,0.82),(4410,0.90),(4415,0.80),
 (4420,0.93),(4425,0.84),(4430,0.91),(4435,0.78),(4440,0.93),(4445,0.84),(4450,0.90),(4455,0.82),
 (4460,0.94),(4465,0.86),(4470,0.92),(4475,0.80),(4480,0.93),(4485,0.84),(4490,0.94),(4495,0.86),
 (4500,0.97),(4505,0.88),(4510,0.94),(4515,0.86),(4520,0.95),(4525,0.88),(4530,0.93),(4535,0.82),
 (4540,0.94),(4545,0.87),(4550,0.95),(4555,0.84),(4560,0.93),(4565,0.88),(4570,0.95),(4575,0.86),
 (4580,0.92),(4585,0.84),(4590,0.94),(4595,0.87),(4600,0.92),(4605,0.85),(4610,0.93),(4615,0.88),
 (4620,0.94),(4625,0.86),(4630,0.92),(4635,0.87),(4640,0.93),(4645,0.85),(4650,0.91),(4655,0.78),
 (4660,0.90),(4665,0.86),(4670,0.93),(4675,0.87),(4680,0.92),(4685,0.88),(4690,0.94),(4695,0.86),
 (4700,0.82),(4705,0.91),(4710,0.87),(4715,0.94),(4720,0.88),(4725,0.93),(4730,0.89),(4735,0.95),
 (4740,0.88),(4745,0.93),(4750,0.89),(4755,0.95),(4760,0.88),(4765,0.92),(4770,0.90),(4775,0.94),
 (4780,0.88),(4785,0.93),(4790,0.87),(4795,0.91),(4800,0.86),(4805,0.92),(4810,0.84),(4815,0.90),
 (4820,0.82),(4825,0.88),(4830,0.80),(4835,0.86),(4840,0.78),(4845,0.84),(4850,0.74),(4855,0.60),
 (4858,0.55),(4862,0.70),(4868,0.86),(4875,0.78),(4880,0.93),(4885,0.82),(4890,0.92),(4895,0.85),
 (4900,0.84),(4905,0.91),(4910,0.92),(4915,0.83),(4920,0.80),(4925,0.88),(4930,0.90),(4935,0.84),
 (4940,0.82),(4945,0.89),(4950,0.91),(4955,0.83),(4960,0.80),(4965,0.88),(4970,0.89),(4975,0.84),
 (4980,0.82),(4985,0.90),(4990,0.90),(4995,0.83),(5000,0.81),(5005,0.88),(5010,0.90),(5015,0.82),
 (5020,0.80),(5025,0.87),(5030,0.88),(5035,0.81),(5040,0.78),(5045,0.87),(5050,0.89),(5055,0.83),
 (5060,0.82),(5065,0.86),(5070,0.88),(5075,0.80),(5080,0.77),(5085,0.86),(5090,0.88),(5095,0.83),
 (5100,0.82),(5105,0.86),(5110,0.87),(5115,0.80),(5120,0.76),(5125,0.85),(5130,0.86),(5135,0.81),
 (5140,0.80),(5145,0.85),(5150,0.84),(5155,0.78),(5160,0.74),(5166,0.64),(5170,0.72),(5176,0.58),
 (5182,0.70),(5190,0.84),(5195,0.80),(5200,0.78),(5205,0.86),(5210,0.87),(5215,0.80),(5220,0.76),
 (5225,0.85),(5230,0.86),(5235,0.81),(5240,0.80),(5245,0.87),(5250,0.88),(5255,0.80),(5260,0.74),
 (5265,0.85),(5270,0.86),(5275,0.82),(5280,0.80),(5285,0.88),(5290,0.90),(5295,0.83),(5300,0.82),
 (5305,0.88),(5310,0.89),(5315,0.81),(5320,0.80),(5325,0.87),(5330,0.88),(5340,0.82),(5350,0.88),
 (5360,0.78),(5370,0.87),(5380,0.81),(5390,0.87),(5400,0.79),(5410,0.86),(5420,0.80),(5430,0.86),
 (5440,0.78),(5450,0.85),(5460,0.81),(5470,0.86),(5480,0.79),(5490,0.85),(5500,0.82),(5510,0.85),
 (5520,0.78),(5530,0.84),(5540,0.80),(5550,0.85),(5560,0.79),(5570,0.84),(5580,0.76),(5590,0.84),
 (5600,0.80),(5610,0.84),(5620,0.79),(5630,0.83),(5640,0.80),(5650,0.84),(5660,0.78),(5670,0.83),
 (5680,0.80),(5690,0.83),(5700,0.79),(5710,0.83),(5720,0.80),(5730,0.82),(5740,0.79),(5750,0.83),
 (5760,0.80),(5770,0.82),(5780,0.79),(5790,0.82),(5800,0.80),(5810,0.82),(5820,0.79),(5830,0.82),
 (5840,0.80),(5850,0.81),(5860,0.79),(5870,0.76),(5878,0.62),(5884,0.72),(5889,0.62),(5895,0.76),
 (5905,0.81),(5915,0.79),(5925,0.81),(5935,0.79),(5945,0.81),(5955,0.79),(5965,0.81),(5975,0.78),
 (5985,0.80),(5995,0.79),(6005,0.80),(6015,0.78),(6025,0.80),(6035,0.77),(6045,0.79),(6055,0.76),
 (6065,0.78),(6075,0.74),(6085,0.78),(6095,0.71),(6105,0.77),(6115,0.70),(6125,0.77),(6135,0.72),
 (6145,0.76),(6155,0.68),(6165,0.76),(6175,0.73),(6185,0.76),(6195,0.74),(6205,0.77),(6215,0.75),
 (6225,0.77),(6235,0.74),(6245,0.76),(6255,0.74),(6265,0.76),(6275,0.71),(6285,0.75),(6295,0.73),
 (6305,0.75),(6315,0.73),(6325,0.75),(6335,0.72),(6345,0.74),(6355,0.72),(6365,0.74),(6375,0.71),
 (6385,0.73),(6395,0.71),(6405,0.73),(6415,0.72),(6425,0.74),(6435,0.71),(6445,0.73),(6455,0.70),
 (6465,0.72),(6475,0.69),(6485,0.63),(6492,0.71),(6500,0.72),(6510,0.70),(6520,0.71),(6530,0.69),
 (6540,0.70),(6548,0.67),(6554,0.50),(6558,0.395),(6562,0.50),(6568,0.66),(6580,0.69),(6590,0.68),
 (6600,0.69),(6610,0.675),(6620,0.68),(6630,0.67),(6640,0.685),(6650,0.665),(6660,0.675),(6670,0.66),
 (6680,0.675),(6690,0.66),(6700,0.67),(6710,0.655),(6720,0.665),(6730,0.65),(6740,0.66),(6750,0.645),
 (6760,0.66),(6770,0.645),(6780,0.655),(6790,0.64),(6800,0.655),(6810,0.64),(6820,0.65),(6830,0.635),
 (6840,0.65),(6850,0.635),(6860,0.645),(6870,0.63),(6880,0.645),(6890,0.63),(6900,0.64),(6910,0.625),
 (6920,0.64),(6930,0.625),(6940,0.635),(6950,0.62),(6960,0.635),(6970,0.62),(6980,0.63),(6990,0.615),
 (7000,0.635),(7010,0.60),(7020,0.63),(7030,0.615),(7040,0.625),(7050,0.61),(7060,0.62),(7070,0.605),
 (7080,0.615),(7090,0.60),(7100,0.62),(7110,0.605),(7120,0.61),(7130,0.60),(7140,0.615),(7150,0.60),
 (7160,0.61),(7170,0.595),(7180,0.61),(7190,0.595),(7200,0.60),(7210,0.585),(7220,0.60),(7230,0.59),
 (7240,0.605),(7250,0.585),(7260,0.595),(7270,0.58),(7280,0.595),(7290,0.58),(7300,0.59),(7310,0.575),
 (7320,0.59),(7330,0.575),(7340,0.585),(7350,0.57),(7360,0.585),(7370,0.57),(7380,0.575),(7395,0.565),
 (7403,0.27),(7410,0.0),(7420,0.0),
]

# HD114606 residual (original - decoded)
RES_B = [
 (3490,0.0),(3525,0.0),(3527,-0.115),(3529,0.12),(3533,0.06),(3537,0.10),(3541,0.04),(3545,0.09),
 (3549,0.05),(3553,0.10),(3557,0.03),(3561,0.08),(3565,0.04),(3569,0.07),(3573,0.02),(3577,0.06),
 (3581,0.03),(3585,0.08),(3589,0.02),(3593,0.07),(3597,0.03),(3601,0.06),(3605,0.02),(3609,0.05),
 (3613,0.0),(3617,0.06),(3621,0.03),(3625,0.07),(3629,0.02),(3633,0.06),(3637,0.03),(3641,0.07),
 (3645,0.01),(3649,0.06),(3653,0.03),(3657,0.08),(3661,0.02),(3665,0.06),(3669,0.0),(3673,0.07),
 (3677,0.03),(3681,0.08),(3685,0.02),(3689,0.07),(3693,0.04),(3697,0.08),(3701,0.02),(3705,0.06),
 (3709,0.03),(3713,0.09),(3717,0.04),(3721,0.01),(3725,-0.02),(3729,0.05),(3733,0.02),(3737,0.08),
 (3741,0.0),(3745,0.06),(3749,0.03),(3753,0.09),(3757,0.01),(3761,0.07),(3765,0.04),(3769,0.10),
 (3773,0.02),(3777,0.06),(3781,0.04),(3785,0.09),(3789,0.02),(3793,0.07),(3797,0.03),(3801,0.06),
 (3805,0.01),(3809,0.07),(3813,0.03),(3817,0.05),(3821,0.0),(3825,0.04),(3829,-0.045),(3833,0.03),
 (3837,0.07),(3841,0.05),(3845,0.10),(3849,0.06),(3853,0.12),(3857,0.08),(3861,0.145),(3865,0.09),
 (3869,0.12),(3873,0.06),(3877,0.10),(3881,0.04),(3885,0.07),(3889,0.01),(3893,0.05),(3897,-0.01),
 (3901,0.04),(3905,0.0),(3909,0.05),(3913,-0.02),(3917,0.03),(3921,0.0),(3925,0.06),(3929,0.02),
 (3933,-0.03),(3937,0.03),(3941,0.0),(3945,0.05),(3949,0.01),(3953,0.03),(3957,-0.05),(3961,0.02),
 (3965,0.04),(3969,0.0),(3973,0.05),(3977,0.02),(3981,0.06),(3985,0.01),(3989,0.05),(3993,0.02),
 (3997,0.06),(4001,0.03),(4005,0.05),(4010,0.01),(4015,0.05),(4020,0.02),(4025,0.06),(4030,0.03),
 (4035,0.05),(4040,0.0),(4045,0.04),(4050,0.02),(4055,0.06),(4060,0.03),(4065,0.05),(4070,0.02),
 (4075,0.06),(4080,0.03),(4085,0.05),(4090,0.01),(4095,0.06),(4100,0.02),(4105,0.05),(4110,0.03),
 (4115,0.06),(4120,0.03),(4125,0.05),(4130,0.04),(4135,0.07),(4140,0.03),(4145,0.06),(4150,0.04),
 (4155,0.07),(4160,0.03),(4165,0.06),(4170,0.05),(4175,0.07),(4180,0.04),(4185,0.08),(4190,0.05),
 (4195,0.06),(4200,0.03),(4205,0.05),(4210,0.02),(4215,0.04),(4220,0.0),(4224,-0.03),(4228,0.02),
 (4232,0.04),(4236,0.0),(4240,0.03),(4245,0.01),(4250,0.04),(4255,0.0),(4260,0.03),(4265,-0.01),
 (4270,0.02),(4275,0.0),(4280,0.03),(4285,-0.01),(4290,0.02),(4295,0.0),(4300,0.03),(4305,0.01),
 (4310,0.04),(4315,0.02),(4320,0.04),(4325,0.01),(4330,0.04),(4335,0.02),(4340,0.04),(4345,0.02),
 (4350,0.045),(4355,0.02),(4360,0.035),(4365,0.02),(4370,0.04),(4375,0.025),(4380,0.02),(4385,0.04),
 (4390,0.045),(4395,0.025),(4400,0.03),(4405,0.045),(4410,0.04),(4415,0.02),(4420,0.025),(4425,0.04),
 (4430,0.045),(4435,0.025),(4440,0.03),(4445,0.045),(4450,0.04),(4455,0.02),(4460,0.025),(4465,0.04),
 (4470,0.045),(4475,0.025),(4480,0.03),(4485,0.045),(4490,0.04),(4495,0.02),(4500,0.03),(4510,0.045),
 (4520,0.025),(4530,0.04),(4540,0.03),(4550,0.045),(4560,0.025),(4570,0.04),(4580,0.03),(4590,0.045),
 (4600,0.025),(4610,0.04),(4620,0.03),(4630,0.04),(4640,0.02),(4650,0.04),(4660,0.01),(4670,0.035),
 (4680,0.025),(4690,0.04),(4700,0.01),(4710,0.035),(4720,0.02),(4730,0.04),(4740,0.025),(4750,0.035),
 (4760,0.02),(4770,0.04),(4780,0.025),(4790,0.035),(4800,0.02),(4810,0.04),(4820,0.025),(4830,0.035),
 (4840,0.02),(4850,0.04),(4860,0.01),(4870,0.035),(4880,0.025),(4890,0.04),(4900,0.02),(4910,0.035),
 (4920,0.025),(4930,0.04),(4940,0.02),(4950,0.035),(4960,0.025),(4970,0.045),(4980,0.02),(4990,0.04),
 (5000,0.03),(5010,0.05),(5020,0.025),(5030,0.04),(5040,0.02),(5050,0.035),(5060,0.025),(5070,0.04),
 (5080,0.02),(5090,0.035),(5100,0.025),(5110,0.04),(5120,0.02),(5130,0.035),(5140,0.025),(5150,0.035),
 (5160,0.02),(5166,0.01),(5172,-0.07),(5176,-0.04),(5180,-0.07),(5186,0.02),(5195,0.03),(5205,0.02),
 (5215,0.035),(5225,0.015),(5235,0.03),(5245,0.02),(5255,0.035),(5265,0.015),(5275,0.03),(5285,0.02),
 (5295,0.03),(5305,0.015),(5315,0.03),(5325,0.02),(5335,0.03),(5345,0.01),(5355,0.025),(5365,0.015),
 (5375,0.03),(5385,0.01),(5395,0.025),(5405,0.015),(5415,0.025),(5425,0.01),(5435,0.025),(5445,0.015),
 (5455,0.025),(5465,0.01),(5475,0.025),(5485,0.015),(5495,0.025),(5505,0.01),(5515,0.025),(5525,0.015),
 (5535,0.025),(5545,0.005),(5555,0.025),(5565,0.015),(5575,0.025),(5585,0.01),(5595,0.02),(5605,0.015),
 (5615,0.025),(5625,0.01),(5635,0.02),(5645,0.01),(5655,0.025),(5665,0.005),(5675,0.02),(5685,0.015),
 (5695,0.025),(5705,0.01),(5715,0.02),(5725,0.015),(5735,0.025),(5745,0.01),(5755,0.02),(5765,0.01),
 (5775,0.025),(5785,0.015),(5795,0.02),(5805,0.01),(5815,0.02),(5825,0.015),(5835,0.025),(5845,0.01),
 (5855,0.02),(5865,0.01),(5875,0.02),(5885,0.04),(5890,0.01),(5895,0.025),(5905,0.01),(5915,0.02),
 (5925,0.005),(5935,0.02),(5945,0.01),(5955,0.02),(5965,0.005),(5975,0.015),(5985,0.01),(5995,0.02),
 (6005,0.005),(6015,0.02),(6025,0.01),(6035,0.025),(6045,0.01),(6055,0.02),(6065,0.015),(6075,0.025),
 (6085,0.01),(6095,0.025),(6105,0.015),(6115,0.03),(6125,0.015),(6135,0.025),(6145,0.01),(6155,0.025),
 (6165,0.015),(6175,0.025),(6185,0.01),(6195,0.02),(6205,0.015),(6215,0.025),(6225,0.01),(6235,0.025),
 (6245,0.015),(6255,0.03),(6265,0.015),(6275,0.025),(6285,0.015),(6295,0.03),(6305,0.015),(6315,0.025),
 (6325,0.02),(6335,0.03),(6345,0.015),(6355,0.025),(6365,0.02),(6375,0.03),(6385,0.015),(6395,0.025),
 (6405,0.02),(6415,0.03),(6425,0.015),(6435,0.025),(6445,0.02),(6455,0.03),(6465,0.015),(6475,0.025),
 (6485,0.02),(6495,0.03),(6505,0.02),(6515,0.03),(6525,0.015),(6535,0.025),(6545,0.02),(6553,0.0),
 (6557,-0.03),(6561,0.01),(6570,0.025),(6580,0.02),(6590,0.03),(6600,0.02),(6610,0.03),(6620,0.015),
 (6630,0.025),(6640,0.02),(6650,0.03),(6660,0.015),(6670,0.025),(6680,0.02),(6690,0.03),(6700,0.015),
 (6710,0.025),(6720,0.02),(6730,0.03),(6740,0.02),(6750,0.035),(6760,0.02),(6770,0.03),(6780,0.015),
 (6790,0.03),(6800,0.025),(6810,0.035),(6820,0.02),(6830,0.04),(6840,0.025),(6850,0.035),(6860,0.02),
 (6870,0.045),(6880,0.03),(6890,0.05),(6900,0.025),(6910,0.045),(6920,0.03),(6930,0.04),(6940,0.02),
 (6950,0.045),(6960,0.03),(6970,0.04),(6980,0.025),(6990,0.045),(7000,0.03),(7010,0.04),(7020,0.025),
 (7030,0.035),(7040,0.03),(7050,0.04),(7060,0.025),(7070,0.035),(7080,0.03),(7090,0.04),(7100,0.03),
 (7110,0.045),(7120,0.035),(7130,0.05),(7140,0.04),(7150,0.055),(7160,0.045),(7170,0.065),(7180,0.05),
 (7190,0.07),(7200,0.055),(7210,0.07),(7220,0.05),(7230,0.065),(7240,0.055),(7250,0.07),(7260,0.05),
 (7270,0.065),(7280,0.05),(7290,0.06),(7300,0.045),(7310,0.06),(7320,0.05),(7330,0.065),(7340,0.045),
 (7350,0.06),(7360,0.04),(7370,0.055),(7380,0.035),(7390,0.05),(7398,0.035),(7403,0.27),(7405,-0.15),
 (7410,0.005),(7420,0.0),
]

# ---------------- figure ----------------
BLUE = "#1f77b4"
ORANGE = "#ff7f0e"
FONT = "DejaVu Sans"
W, H = 1122, 869
K = 1.0081  # vertical pixel correction

# axes boxes in pixels (left, right, top, bottom)
COLS = [(71.7, 558.3), (631.0, 1117.7)]
ROWS = [(50.7 * K, 380.0 * K), (490.7 * K, 820.0 * K)]

def unzip(pairs):
    return [p[0] for p in pairs], [p[1] for p in pairs]

panels = [
    (0, 0, [(ORIG_A, BLUE)]),
    (0, 1, [(DEC_A, BLUE), (RES_A, ORANGE)]),
    (1, 0, [(ORIG_B, BLUE)]),
    (1, 1, [(DEC_B, BLUE), (RES_B, ORANGE)]),
]

fig = go.Figure()
layout = {}
annotations = []
for i, (r, c, series) in enumerate(panels):
    n = i + 1
    xa = "x" if n == 1 else "x%d" % n
    ya = "y" if n == 1 else "y%d" % n
    for pairs, col in series:
        xs, ys = unzip(pairs)
        fig.add_trace(go.Scatter(x=xs, y=ys, mode="lines", xaxis=xa, yaxis=ya,
                                 line=dict(color=col, width=1.5), showlegend=False,
                                 hoverinfo="skip"))
    l, rr = COLS[c]
    t, b = ROWS[r]
    common = dict(showline=True, linecolor="black", linewidth=0.8, mirror=True,
                  showgrid=True, gridcolor="#b0b0b0", gridwidth=0.8, zeroline=False,
                  ticks="outside", ticklen=3.5, tickwidth=0.8, tickcolor="black",
                  tickfont=dict(family=FONT, size=12.5, color="black"))
    layout["xaxis" if n == 1 else "xaxis%d" % n] = dict(
        domain=[l / W, rr / W], range=[3307, 7626], tickvals=X_TICKS,
        ticktext=[str(v) for v in X_TICKS], anchor=ya, **common)
    layout["yaxis" if n == 1 else "yaxis%d" % n] = dict(
        domain=[1 - b / H, 1 - t / H], range=[-0.2, 1.1], tickvals=Y_TICKS,
        ticktext=Y_TICK_TEXT, anchor=xa, **common)
    cx = (l + rr) / 2 / W
    annotations.append(dict(text=PANEL_TITLES[c], x=cx, y=1 - (t - 23.8 * K) / H,
                            xref="paper", yref="paper", xanchor="center", yanchor="middle",
                            showarrow=False, font=dict(family=FONT, size=20.3, color="black")))
    annotations.append(dict(text="Wavelength (\u00c5)", x=cx, y=1 - (b + 34.5 * K) / H,
                            xref="paper", yref="paper", xanchor="center", yanchor="middle",
                            showarrow=False, font=dict(family=FONT, size=20.3, color="black")))
    annotations.append(dict(text="ADU", x=(l - 50) / W, y=1 - (t + b) / 2 / H,
                            xref="paper", yref="paper", xanchor="center", yanchor="middle",
                            textangle=-90, showarrow=False,
                            font=dict(family=FONT, size=20.3, color="black")))

for r, star in enumerate(STARS):
    t = ROWS[r][0]
    annotations.append(dict(text=star, x=571 / W, y=1 - (t - 35 * K) / H,
                            xref="paper", yref="paper", xanchor="center", yanchor="middle",
                            showarrow=False, font=dict(family=FONT, size=20.3, color="black")))

fig.update_layout(width=W, height=H, autosize=False,
                  margin=dict(l=0, r=0, t=0, b=0),
                  paper_bgcolor="white", plot_bgcolor="white",
                  annotations=annotations, **layout)
fig.write_html("out.html")
